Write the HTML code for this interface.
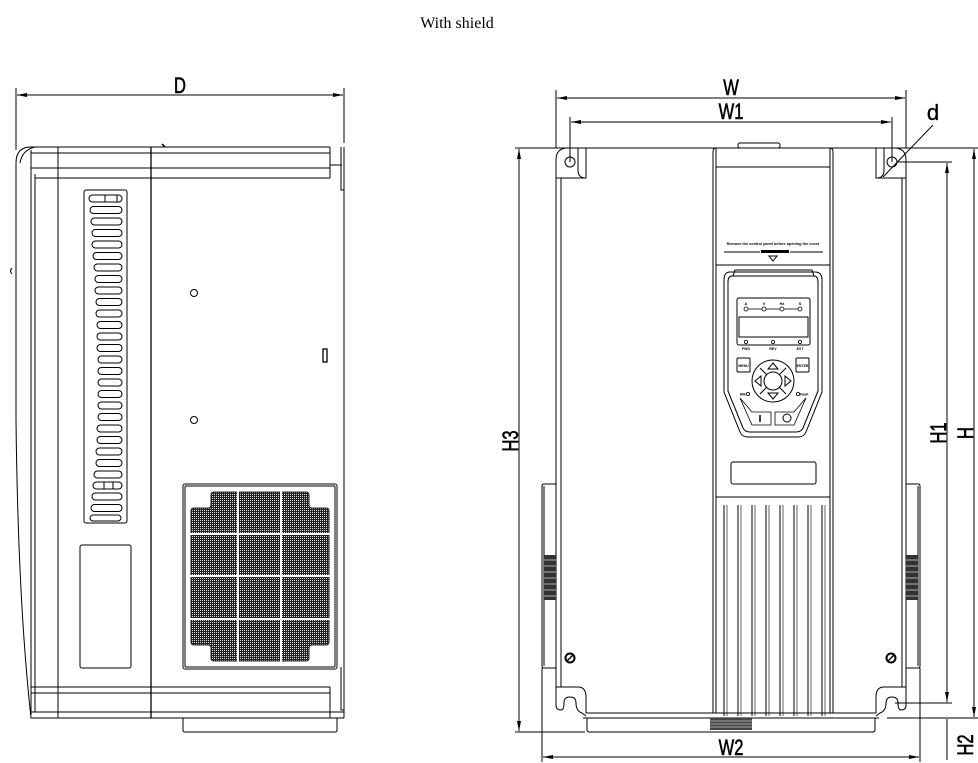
<!DOCTYPE html>
<html><head><meta charset="utf-8"><style>
html,body{margin:0;padding:0;background:#fff;}
svg{display:block;}
.dim{font-family:"Liberation Sans",sans-serif;font-size:22px;}
</style></head><body>
<svg width="978" height="763" viewBox="0 0 978 763" xmlns="http://www.w3.org/2000/svg">
<defs>
<pattern id="mesh" width="2" height="2" patternUnits="userSpaceOnUse">
<rect width="2" height="2" fill="#222"/><rect width="1" height="1" fill="#ddd"/>
</pattern>
<marker id="ar" markerWidth="10" markerHeight="6" refX="10" refY="3" orient="auto-start-reverse" markerUnits="userSpaceOnUse">
<path d="M0,1 L10,3 L0,5 Z" fill="#000"/>
</marker>
</defs>
<text x="457" y="28" text-anchor="middle" font-family="Liberation Serif,serif" font-size="16">With shield</text>

<g fill="none" stroke="#000" stroke-width="1">
<!-- ===== LEFT (side) VIEW ===== -->
<line x1="16" y1="88" x2="16" y2="150"/>
<line x1="344" y1="88" x2="344" y2="143"/>
<line x1="17" y1="95" x2="343" y2="95" marker-start="url(#ar)" marker-end="url(#ar)"/>
<path d="M31,147 Q16,147 16,163 L16,420 Q18,600 31,718 L330,718"/>
<path d="M35,147 Q22,150 20,163"/>
<line x1="31" y1="147" x2="330" y2="147"/>
<line x1="31" y1="153" x2="330" y2="153"/>
<line x1="31" y1="168" x2="330" y2="168"/>
<line x1="35" y1="178" x2="330" y2="178"/>
<line x1="31" y1="150" x2="31" y2="715"/>
<line x1="35" y1="174" x2="35" y2="712"/>
<line x1="58" y1="147" x2="58" y2="718"/>
<line x1="151" y1="147" x2="151" y2="718" stroke-width="1.3"/>
<line x1="330" y1="147" x2="330" y2="178"/>
<line x1="330" y1="165" x2="342" y2="165"/>
<path d="M341,147 L341,190 L344,190 L344,147"/>
<line x1="344" y1="150" x2="344" y2="718"/>
<path d="M162,144 l3,3" stroke-width="1.5"/>
<path d="M12,268 q-3,3 0,6"/>
<line x1="31" y1="687" x2="330" y2="687"/>
<line x1="31" y1="693" x2="330" y2="693"/>
<line x1="31" y1="712" x2="344" y2="712"/>
<line x1="31" y1="718" x2="344" y2="718"/>
<line x1="330" y1="687" x2="330" y2="718"/>
<path d="M341,667 L341,710 L344,710"/>
<path d="M183,718 L183,730 Q183,732 185,732 L335,732 Q337,732 337,730 L337,718"/>
<rect x="84" y="190" width="43" height="333" rx="2"/>
<g>
<rect x="89" y="195" width="33" height="7" rx="3.5"/>
<line x1="105" y1="195" x2="105" y2="202"/><line x1="117" y1="195" x2="117" y2="202"/>
<rect x="90" y="206.5" width="32" height="7" rx="3.5"/>
<rect x="91" y="218" width="31" height="7" rx="3.5"/>
<rect x="92" y="229.5" width="30" height="7" rx="3.5"/>
<rect x="92" y="241" width="30" height="7" rx="3.5"/>
<rect x="93" y="252.5" width="29" height="7" rx="3.5"/>
<rect x="94" y="264" width="28" height="7" rx="3.5"/>
<rect x="95" y="275.5" width="27" height="7" rx="3.5"/>
<rect x="95" y="287" width="27" height="7" rx="3.5"/>
<rect x="96" y="298.5" width="26" height="7" rx="3.5"/>
<rect x="96" y="310" width="26" height="7" rx="3.5"/>
<rect x="97" y="321.5" width="25" height="7" rx="3.5"/>
<rect x="97" y="333" width="25" height="7" rx="3.5"/>
<rect x="97" y="344.5" width="25" height="7" rx="3.5"/>
<rect x="98" y="356" width="24" height="7" rx="3.5"/>
<rect x="98" y="367.5" width="24" height="7" rx="3.5"/>
<rect x="98" y="379" width="24" height="7" rx="3.5"/>
<rect x="98" y="390.5" width="24" height="7" rx="3.5"/>
<rect x="98" y="402" width="24" height="7" rx="3.5"/>
<rect x="98" y="413.5" width="24" height="7" rx="3.5"/>
<rect x="97" y="425" width="25" height="7" rx="3.5"/>
<rect x="97" y="436.5" width="25" height="7" rx="3.5"/>
<rect x="96" y="448" width="26" height="7" rx="3.5"/>
<rect x="96" y="459.5" width="26" height="7" rx="3.5"/>
<rect x="94" y="471" width="28" height="7" rx="3.5"/>
<rect x="93" y="482" width="29" height="7" rx="3.5"/>
<line x1="104" y1="482" x2="104" y2="489"/><line x1="113" y1="482" x2="113" y2="489"/>
<rect x="92" y="493" width="30" height="7" rx="3.5"/>
<rect x="91" y="504.5" width="31" height="7" rx="3.5"/>
<rect x="90" y="515" width="31" height="6" rx="3"/>
</g>
<circle cx="194" cy="293" r="3.5"/>
<circle cx="194" cy="420" r="3.5"/>
<rect x="323" y="349" width="4" height="13" stroke-width="1.3"/>
<rect x="80" y="545" width="51" height="123" rx="2"/>
<rect x="183" y="484" width="154" height="185" rx="2"/>
<rect x="185" y="486" width="150" height="181" rx="1"/>
<path d="M214,492 L306,492 Q309,492 309,495 L309,505 Q309,508 312,508 L326,508 Q329,508 329,511 L329,642 Q329,645 326,645 L312,645 Q309,645 309,648 L309,658 Q309,661 306,661 L214,661 Q211,661 211,658 L211,648 Q211,645 208,645 L194,645 Q191,645 191,642 L191,511 Q191,508 194,508 L208,508 Q211,508 211,505 L211,495 Q211,492 214,492 Z" fill="url(#mesh)" stroke="#222"/>
<g stroke="#fff" stroke-width="2">
<line x1="238" y1="490" x2="238" y2="663"/><line x1="281" y1="490" x2="281" y2="663"/>
<line x1="189" y1="534" x2="331" y2="534"/><line x1="189" y1="576" x2="331" y2="576"/><line x1="189" y1="619" x2="331" y2="619"/>
</g>

<!-- ===== FRONT VIEW ===== -->
<line x1="556" y1="90" x2="556" y2="148"/>
<line x1="906" y1="90" x2="906" y2="148"/>
<line x1="557" y1="98" x2="905" y2="98" marker-start="url(#ar)" marker-end="url(#ar)"/>
<line x1="570" y1="117" x2="570" y2="162"/>
<line x1="892" y1="117" x2="892" y2="162"/>
<line x1="571" y1="122" x2="891" y2="122" marker-start="url(#ar)" marker-end="url(#ar)"/>
<line x1="515" y1="148" x2="978" y2="148"/>
<line x1="933" y1="125" x2="883" y2="177"/>
<line x1="898" y1="162" x2="952" y2="162"/>
<line x1="519" y1="149" x2="519" y2="731" marker-start="url(#ar)" marker-end="url(#ar)"/>
<line x1="947" y1="163" x2="947" y2="702" marker-start="url(#ar)" marker-end="url(#ar)"/>
<line x1="974" y1="149" x2="974" y2="717" marker-start="url(#ar)" marker-end="url(#ar)"/>
<line x1="515" y1="732" x2="585" y2="732"/>
<line x1="895" y1="703" x2="952" y2="703"/>
<line x1="887" y1="718" x2="978" y2="718"/>
<line x1="947" y1="719" x2="947" y2="760"/>
<line x1="542" y1="668" x2="542" y2="762"/>
<line x1="920" y1="668" x2="920" y2="762"/>
<line x1="543" y1="757" x2="919" y2="757" marker-start="url(#ar)" marker-end="url(#ar)"/>

<path d="M556,160 Q556,148 568,148 L578,148 L578,170 Q578,177 584,178 L586,178 L586,148"/>
<path d="M906,160 Q906,148 894,148 L884,148 L884,170 Q884,177 878,178 L876,178 L876,148"/>
<line x1="556" y1="160" x2="556" y2="687"/>
<line x1="906" y1="160" x2="906" y2="687"/>
<line x1="561" y1="178" x2="561" y2="687"/>
<line x1="902" y1="178" x2="902" y2="687"/>
<line x1="556" y1="178" x2="586" y2="178"/>
<line x1="876" y1="178" x2="906" y2="178"/>
<circle cx="570" cy="162" r="5"/>
<circle cx="892" cy="162" r="5"/>
<path d="M556,687 L578,687 Q586,687 586,697 L586,713 L876,713 L876,697 Q876,687 884,687 L906,687"/>
<path d="M556,687 L556,705 Q556,710 561,710 Q564,710 564,703 Q564,697 570,697 Q576,697 576,703 Q576,711 582,713 L586,716"/>
<path d="M906,687 L906,705 Q906,710 901,710 Q898,710 898,703 Q898,697 892,697 Q886,697 886,703 Q886,711 880,713 L876,716"/>
<line x1="583" y1="718" x2="879" y2="718"/>
<path d="M587,718 L587,730 Q587,732 590,732 L872,732 Q875,732 875,730 L875,718"/>
<rect x="710" y="718" width="42" height="12" fill="#444" stroke="none"/>
<g stroke="#fff" stroke-width="0.6"><line x1="710" y1="721" x2="752" y2="721"/><line x1="710" y1="724" x2="752" y2="724"/><line x1="710" y1="727" x2="752" y2="727"/></g>
<path d="M556,484 L544,484 Q542,484 542,486 L542,666 Q542,668 544,668 L556,668"/>
<line x1="544" y1="486" x2="544" y2="666"/>
<path d="M906,484 L918,484 Q920,484 920,486 L920,666 Q920,668 918,668 L906,668"/>
<line x1="918" y1="486" x2="918" y2="666"/>
<rect x="544" y="555" width="12" height="45" fill="#333" stroke="none"/>
<rect x="906" y="555" width="12" height="45" fill="#333" stroke="none"/>
<g stroke="#fff" stroke-width="0.6">
<line x1="544" y1="560" x2="556" y2="560"/><line x1="544" y1="566" x2="556" y2="566"/><line x1="544" y1="572" x2="556" y2="572"/><line x1="544" y1="578" x2="556" y2="578"/><line x1="544" y1="584" x2="556" y2="584"/><line x1="544" y1="590" x2="556" y2="590"/><line x1="544" y1="596" x2="556" y2="596"/>
<line x1="906" y1="560" x2="918" y2="560"/><line x1="906" y1="566" x2="918" y2="566"/><line x1="906" y1="572" x2="918" y2="572"/><line x1="906" y1="578" x2="918" y2="578"/><line x1="906" y1="584" x2="918" y2="584"/><line x1="906" y1="590" x2="918" y2="590"/><line x1="906" y1="596" x2="918" y2="596"/>
</g>
<circle cx="570" cy="658" r="4.5" stroke-width="2"/><line x1="567" y1="661" x2="573" y2="655" stroke-width="1.5"/>
<circle cx="891" cy="658" r="4.5" stroke-width="2"/><line x1="888" y1="661" x2="894" y2="655" stroke-width="1.5"/>
<rect x="738" y="143" width="42" height="5" rx="2"/>
<path d="M713,713 L713,152 Q713,148 716,148 L716,713"/>
<path d="M833,713 L833,152 Q833,148 830,148 L830,713"/>
<line x1="716" y1="167" x2="830" y2="167"/>
<line x1="716" y1="265" x2="830" y2="265"/>
<line x1="716" y1="497" x2="830" y2="497"/>
<line x1="724" y1="252" x2="760" y2="252"/><line x1="790" y1="252" x2="823" y2="252"/>
<rect x="761" y="250" width="28" height="3" fill="#000" stroke="none"/>
<path d="M769,256 L777,256 L773,261 Z"/>
<rect x="731" y="462" width="85" height="22" rx="2"/>
<g>
<path d="M724,505 L724,716 M738,505 L738,716 M752,505 L752,716 M766,505 L766,716 M780,505 L780,716 M794,505 L794,716 M808,505 L808,716 M822,505 L822,716"/>
<path d="M727,505 L727,716 M741,505 L741,716 M755,505 L755,716 M769,505 L769,716 M783,505 L783,716 M797,505 L797,716 M811,505 L811,716 M825,505 L825,716" stroke-width="0.6"/>
</g>
<path d="M730,272 L815,272 Q822,272 822,280 L822,392 L806,432 Q804,437 798,437 L748,437 Q742,437 740,432 L724,392 L724,280 Q724,272 730,272 Z"/>
<path d="M732,276 L814,276 Q818,276 818,282 L818,391 L803,428 Q801,432 796,432 L750,432 Q745,432 743,428 L728,391 L728,282 Q728,276 732,276 Z"/>
<path d="M733,276 L735,270 L812,270 L814,276"/>
<rect x="737" y="298" width="73" height="47" rx="2"/>
<rect x="739" y="317" width="69" height="20"/>
<g stroke-width="0.8">
<circle cx="746" cy="309" r="2"/><circle cx="764" cy="309" r="2"/><circle cx="782" cy="309" r="2"/><circle cx="800" cy="309" r="2"/>
<line x1="748" y1="309" x2="762" y2="309"/><line x1="766" y1="309" x2="780" y2="309"/><line x1="784" y1="309" x2="798" y2="309"/>
<circle cx="746" cy="342" r="1.6"/><circle cx="773" cy="342" r="1.6"/><circle cx="800" cy="342" r="1.6"/>
</g>
<rect x="737" y="358" width="13" height="14" rx="1"/>
<rect x="796" y="358" width="13" height="14" rx="1"/>
<circle cx="773" cy="381" r="21"/>
<circle cx="773" cy="381" r="9"/>
<line x1="760" y1="368" x2="767" y2="375"/><line x1="786" y1="368" x2="779" y2="375"/>
<line x1="760" y1="394" x2="767" y2="387"/><line x1="786" y1="394" x2="779" y2="387"/>
<path d="M773,363 L778,369 L768,369 Z"/>
<path d="M773,399 L778,393 L768,393 Z"/>
<path d="M755,381 L761,376 L761,386 Z"/>
<path d="M791,381 L785,376 L785,386 Z"/>
<path d="M740,398 L752,412 L771,412 L771,425 L752,425 Z" stroke-width="0.8"/>
<path d="M806,398 L794,412 L775,412 L775,425 L794,425 Z" stroke-width="0.8"/>
<line x1="760" y1="415" x2="760" y2="422" stroke-width="1.5"/>
<circle cx="787" cy="418" r="4"/>
<circle cx="748" cy="394" r="1.6" stroke-width="0.8"/><circle cx="798" cy="394" r="1.6" stroke-width="0.8"/>
</g>
<g font-family="Liberation Sans,sans-serif" font-weight="bold" fill="#000">
<text x="773" y="245" font-size="3.8" text-anchor="middle">Remove the control panel before opening the cover</text>
<text x="746" y="305" font-size="4" text-anchor="middle">A</text>
<text x="764" y="305" font-size="4" text-anchor="middle">V</text>
<text x="782" y="305" font-size="4" text-anchor="middle">Hz</text>
<text x="800" y="305" font-size="4" text-anchor="middle">S</text>
<text x="746" y="350" font-size="3.5" text-anchor="middle">FWD</text>
<text x="773" y="350" font-size="3.5" text-anchor="middle">REV</text>
<text x="800" y="350" font-size="3.5" text-anchor="middle">EXT</text>
<text x="743.5" y="367" font-size="3.5" text-anchor="middle">MENU</text>
<text x="802.5" y="367" font-size="3.5" text-anchor="middle">ENTER</text>
<text x="740" y="395.5" font-size="3.5">RM</text>
<text x="800" y="395.5" font-size="3.5">Fault</text>
</g>
<g class="dim" fill="#000" stroke="#000" stroke-width="0.6" text-anchor="middle">
<text x="180" y="93" transform="translate(180 0) scale(0.75 1) translate(-180 0)">D</text>
<text x="731" y="95" transform="translate(731 0) scale(0.75 1) translate(-731 0)">W</text>
<text x="731" y="119" transform="translate(731 0) scale(0.75 1) translate(-731 0)">W1</text>
<text x="933" y="120" stroke-width="0.3">d</text>
<text x="731" y="755" transform="translate(731 0) scale(0.75 1) translate(-731 0)">W2</text>
<text transform="translate(518 441) rotate(-90) scale(0.75 1)">H3</text>
<text transform="translate(946 433) rotate(-90) scale(0.75 1)">H1</text>
<text transform="translate(973 433) rotate(-90) scale(0.75 1)">H</text>
<text transform="translate(973 745) rotate(-90) scale(0.75 1)">H2</text>
</g>
</svg>
</body></html>
